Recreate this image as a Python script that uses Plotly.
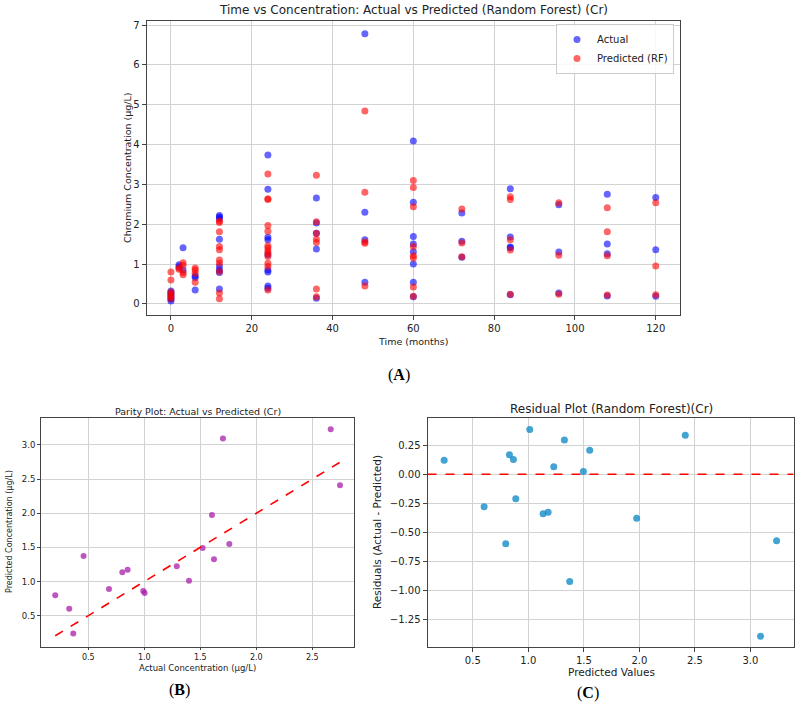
import plotly.graph_objects as go

W, H = 798, 707

# ---------------- Panel A data: time vs concentration ----------------
time_actual = [0, 0, 0, 0, 0, 0,
               2, 2, 3, 3,
               6, 6, 6,
               12, 12, 12, 12, 12, 12, 12, 12,
               24, 24, 24, 24, 24, 24, 24, 24, 24,
               36, 36, 36, 36, 36,
               48, 48, 48, 48,
               60, 60, 60, 60, 60, 60, 60, 60,
               72, 72, 72,
               84, 84, 84, 84, 84,
               96, 96, 96,
               108, 108, 108, 108,
               120, 120, 120]
conc_actual = [0.32, 0.27, 0.22, 0.17, 0.12, 0.07,
               0.98, 0.93, 1.41, 0.85,
               0.70, 0.66, 0.35,
               2.22, 2.18, 2.14, 1.62, 0.94, 0.85, 0.79, 0.37,
               3.74, 2.88, 1.67, 1.61, 1.23, 0.85, 0.80, 0.45, 0.39,
               2.66, 2.03, 1.77, 1.38, 0.14,
               6.78, 2.30, 1.61, 0.54,
               4.09, 2.55, 1.69, 1.50, 1.31, 1.00, 0.54, 0.18,
               2.28, 1.57, 1.17,
               2.89, 1.68, 1.43, 1.41, 0.23,
               2.49, 1.30, 0.27,
               2.75, 1.50, 1.26, 0.20,
               2.67, 1.36, 0.19]

time_pred = [0, 0, 0, 0, 0, 0,
             2, 2, 3, 3, 3, 3,
             6, 6, 6, 6,
             12, 12, 12, 12, 12, 12, 12, 12, 12, 12,
             24, 24, 24, 24, 24, 24, 24, 24, 24, 24, 24, 24, 24,
             36, 36, 36, 36, 36, 36, 36,
             48, 48, 48, 48, 48,
             60, 60, 60, 60, 60, 60, 60, 60,
             72, 72, 72,
             84, 84, 84, 84, 84,
             96, 96, 96,
             108, 108, 108, 108,
             120, 120, 120]
conc_pred = [0.80, 0.60, 0.30, 0.24, 0.18, 0.13,
             0.90, 0.87, 1.03, 0.97, 0.79, 0.73,
             0.90, 0.85, 0.77, 0.54,
             2.08, 2.04, 1.81, 1.44, 1.36, 1.10, 1.02, 0.81, 0.27, 0.13,
             3.26, 2.64, 2.62, 1.97, 1.82, 1.46, 1.40, 1.33, 1.27, 1.19, 1.02, 0.94, 0.35,
             3.23, 2.06, 1.77, 1.62, 1.54, 0.37, 0.18,
             4.84, 2.80, 1.55, 1.52, 0.45,
             3.10, 2.92, 2.44, 1.44, 1.21, 1.15, 0.42, 0.19,
             2.38, 1.53, 1.18,
             2.69, 2.62, 1.61, 1.35, 0.24,
             2.54, 1.22, 0.24,
             2.41, 1.81, 1.21, 0.22,
             2.54, 0.95, 0.23]

# ---------------- Panel B data: parity ----------------
parity_actual = [0.205, 0.33, 0.366, 0.458, 0.685, 0.804, 0.851, 0.991, 1.003,
                 1.29, 1.399, 1.521, 1.604, 1.622, 1.702, 1.759, 2.664, 2.747]
parity_pred = [0.798, 0.60, 0.24, 1.374, 0.89, 1.135, 1.174, 0.861, 0.832,
               1.223, 1.013, 1.491, 1.975, 1.325, 3.093, 1.550, 3.229, 2.409]
ideal_line = [0.205, 2.747]

# ---------------- Panel C data: residuals ----------------
resid_pred = [0.242, 0.602, 0.797, 0.83, 0.866, 0.887, 1.013, 1.133, 1.178,
              1.229, 1.325, 1.373, 1.496, 1.553, 1.976, 2.414, 3.092, 3.236]
resid_vals = [0.12, -0.28, -0.597, 0.166, 0.126, -0.211, 0.383, -0.34, -0.326,
              0.063, 0.294, -0.92, 0.023, 0.206, -0.377, 0.334, -1.389, -0.571]
zero_line_x = [0.092, 3.386]
zero_line_y = [0.0, 0.0]

FONT = "DejaVu Sans"

def px(x):
    return x / W

def py(y):
    return 1 - y / H

fig = go.Figure()

fig.add_trace(go.Scatter(x=time_actual, y=conc_actual, mode="markers", name="Actual",
                         marker=dict(color="rgba(0,0,255,0.6)", size=7, line=dict(width=0)),
                         xaxis="x", yaxis="y"))
fig.add_trace(go.Scatter(x=time_pred, y=conc_pred, mode="markers", name="Predicted (RF)",
                         marker=dict(color="rgba(255,0,0,0.6)", size=7, line=dict(width=0)),
                         xaxis="x", yaxis="y"))

fig.add_trace(go.Scatter(x=parity_actual, y=parity_pred, mode="markers", showlegend=False,
                         marker=dict(color="rgba(170,30,170,0.75)", size=6, line=dict(width=0)),
                         xaxis="x2", yaxis="y2"))
fig.add_trace(go.Scatter(x=ideal_line, y=ideal_line, mode="lines", showlegend=False,
                         line=dict(color="red", width=1.6, dash="dash"),
                         xaxis="x2", yaxis="y2"))

fig.add_trace(go.Scatter(x=zero_line_x, y=zero_line_y, mode="lines", showlegend=False,
                         line=dict(color="red", width=1.6, dash="dash"),
                         xaxis="x3", yaxis="y3"))
fig.add_trace(go.Scatter(x=resid_pred, y=resid_vals, mode="markers", showlegend=False,
                         marker=dict(color="rgba(20,140,200,0.8)", size=7, line=dict(width=0)),
                         xaxis="x3", yaxis="y3"))

axis_common = dict(showline=True, mirror=True, linecolor="#444", linewidth=1,
                   tickcolor="#444", ticks="outside",
                   showgrid=True, gridcolor="#d2d2d2", gridwidth=1, zeroline=False,
                   fixedrange=True)

fig.update_layout(
    width=W, height=H,
    margin=dict(l=0, r=0, t=0, b=0),
    paper_bgcolor="white", plot_bgcolor="white",
    font=dict(family=FONT, color="#222"),
    showlegend=True,
    legend=dict(x=px(674), y=py(24), xanchor="right", yanchor="top",
                bgcolor="rgba(255,255,255,0.85)", bordercolor="#cccccc", borderwidth=1,
                font=dict(size=10, family=FONT), itemwidth=30, tracegroupgap=0),
    xaxis=dict(domain=[px(146.7), px(680)], range=[-6, 126], dtick=20, ticklen=4,
               tickfont=dict(size=10), anchor="y", **axis_common),
    yaxis=dict(domain=[py(315), py(20.7)], range=[-0.28, 7.11], dtick=1, ticklen=4,
               tickfont=dict(size=10), anchor="x", **axis_common),
    xaxis2=dict(domain=[px(41), px(354)], range=[0.078, 2.872], dtick=0.5, tickformat=".1f",
                ticklen=2, tickfont=dict(size=8), anchor="y2", **axis_common),
    yaxis2=dict(domain=[py(647), py(418)], range=[0.041, 3.395], dtick=0.5, tickformat=".1f",
                ticklen=3, tickfont=dict(size=8.5), anchor="x2", **axis_common),
    xaxis3=dict(domain=[px(427.5), px(794)], range=[0.092, 3.393], dtick=0.5, tickformat=".1f",
                ticklen=4, tickfont=dict(size=10), anchor="y3", **axis_common),
    yaxis3=dict(domain=[py(646.7), py(418.3)], range=[-1.479, 0.479], dtick=0.25, tickformat=".2f",
                ticklen=4, tickfont=dict(size=10), anchor="x3", **axis_common),
)

def ann(text, x, y, size, angle=0, family=FONT, color="#222"):
    fig.add_annotation(text=text, x=px(x), y=py(y), xref="paper", yref="paper",
                       xanchor="center", yanchor="middle", showarrow=False,
                       textangle=angle, font=dict(size=size, family=family, color=color))

ann("Time vs Concentration: Actual vs Predicted (Random Forest) (Cr)", 413, 10, 12)
ann("Time (months)", 413, 341, 9.5)
ann("Chromium Concentration (μg/L)", 127, 168, 9.5, angle=-90)

ann("Parity Plot: Actual vs Predicted (Cr)", 197.5, 411, 9.5)
ann("Actual Concentration (μg/L)", 197.5, 668, 8.5)
ann("Predicted Concentration (μg/L)", 9, 532, 8, angle=-90)

ann("Residual Plot (Random Forest)(Cr)", 611, 409, 12)
ann("Predicted Values", 611, 672, 10.5)
ann("Residuals (Actual - Predicted)", 377, 532, 10.5, angle=-90)

ann("(<b>A</b>)", 399, 375, 16, family="Liberation Serif", color="black")
ann("(<b>B</b>)", 179, 690, 16, family="Liberation Serif", color="black")
ann("(<b>C</b>)", 588, 693, 16, family="Liberation Serif", color="black")

fig.write_html("out.html")
